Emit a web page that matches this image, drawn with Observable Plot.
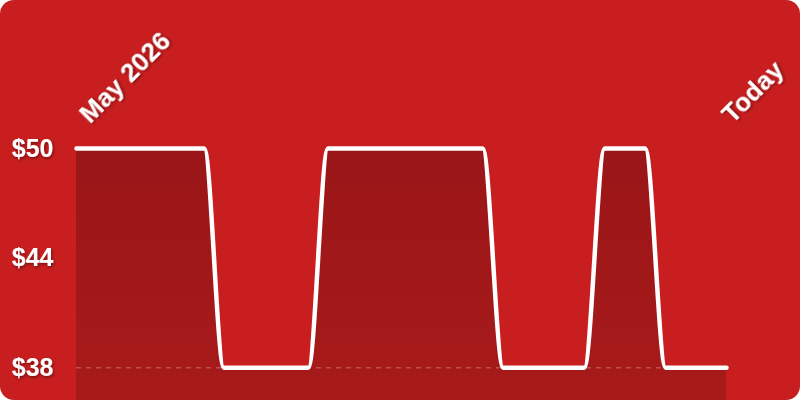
<!DOCTYPE html>
<html>
<head>
<meta charset="utf-8">
<script src="https://cdn.jsdelivr.net/npm/d3@7"></script>
<script src="https://cdn.jsdelivr.net/npm/@observablehq/plot@0.6"></script>
<style>
  html, body { margin: 0; padding: 0; background: #ffffff; }
  #card {
    width: 800px; height: 400px; background: #c91e1f; border-radius: 14px;
    overflow: hidden; position: relative;
  }
  #card svg { display: block; }
</style>
</head>
<body>
<div id="card"></div>
<script>
// ---- data ----
const dates = [
  "2026-05-01T00:00", "2026-05-07T07:00", "2026-05-08T06:00", "2026-05-12T10:00",
  "2026-05-13T09:00", "2026-05-21T00:00", "2026-05-22T00:00", "2026-05-26T00:00",
  "2026-05-27T00:00", "2026-05-29T00:00", "2026-05-30T00:00", "2026-06-02T00:00"
];
const prices = [50, 50, 38, 38, 50, 50, 38, 38, 50, 50, 38, 38];
const priceTicks = [38, 44, 50];
const xLabelDates = ["2026-05-01T09:00", "2026-06-02T00:00"];
const xLabelTexts = ["May 2026", "Today"];
const yDomain = [36.2, 50];
const referencePrice = 38;

const data = dates.map((d, i) => ({date: new Date(d), price: prices[i]}));
const labels = xLabelDates.map((d, i) => ({date: new Date(d), text: xLabelTexts[i]}));

const font = "'Liberation Sans', Arial, Helvetica, sans-serif";

const defs = () => {
  const g = d3.create("svg:defs");
  const grad = g.append("linearGradient").attr("id", "areaGrad")
    .attr("x1", 0).attr("y1", 0).attr("x2", 0).attr("y2", 1);
  grad.append("stop").attr("offset", "0%").attr("stop-color", "#9a1618");
  grad.append("stop").attr("offset", "100%").attr("stop-color", "#a81a1a");
  const f = g.append("filter").attr("id", "txtShadow")
    .attr("x", "-20%").attr("y", "-20%").attr("width", "140%").attr("height", "140%");
  f.append("feDropShadow").attr("dx", 1).attr("dy", 1.5).attr("stdDeviation", 1.5)
    .attr("flood-color", "#000").attr("flood-opacity", 0.45);
  return g.node();
};

const chart = Plot.plot({
  width: 800,
  height: 400,
  marginTop: 148,
  marginBottom: 0,
  marginLeft: 76,
  marginRight: 74,
  style: {background: "transparent", color: "white", fontFamily: font},
  x: {type: "time", domain: [data[0].date, data[data.length - 1].date], axis: null},
  y: {domain: yDomain, axis: null},
  marks: [
    defs,
    Plot.areaY(data, {x: "date", y: "price", y1: yDomain[0], curve: "monotone-x", fill: "url(#areaGrad)"}),
    Plot.ruleY([referencePrice], {stroke: "rgba(255,255,255,0.24)", strokeWidth: 1.5, strokeDasharray: "5,5"}),
    Plot.lineY(data, {x: "date", y: "price", curve: "monotone-x", stroke: "white", strokeWidth: 4.5, strokeLinejoin: "round", strokeLinecap: "round"}),
    Plot.axisY({ticks: priceTicks, tickFormat: d => "$" + d, tickSize: 0, tickPadding: 23, label: null,
      fontSize: 25, fontWeight: "bold", fill: "white", textAnchor: "end"}),
    Plot.text(labels, {x: "date", frameAnchor: "top", text: "text", rotate: -45,
      textAnchor: "start", lineAnchor: "bottom", dx: 6, dy: -24,
      fontSize: 26, fontWeight: "bold", fill: "white"})
  ]
});

d3.select(chart).selectAll("text").attr("filter", "url(#txtShadow)");
document.getElementById("card").appendChild(chart);
</script>
</body>
</html>
